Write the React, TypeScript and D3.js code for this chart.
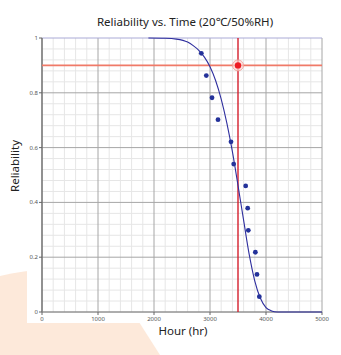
import React from "react";
import * as d3 from "d3";

const title = "Reliability vs. Time (20℃/50%RH)";
const xLabel = "Hour (hr)";
const yLabel = "Reliability";

const xTicks = [0, 1000, 2000, 3000, 4000, 5000];
const yTicks = [0, 0.2, 0.4, 0.6, 0.8, 1];
const yTickLabels = ["0", "0.2", "0.4", "0.6", "0.8", "1"];

// fitted reliability curve
const curveHours = [1900, 2200, 2400, 2600, 2700, 2800, 2900, 3000, 3100, 3200, 3300, 3400, 3500, 3600, 3700, 3800, 3900, 4000, 4100, 4200, 4400, 4700, 5000];
const curveRel = [1.0, 0.999, 0.996, 0.985, 0.972, 0.955, 0.93, 0.895, 0.845, 0.777, 0.69, 0.585, 0.462, 0.335, 0.21, 0.113, 0.05, 0.016, 0.004, 0.0, 0.0, 0.0, 0.0];

// observed failure points
const obsHours = [2845, 2934, 3036, 3143, 3375, 3423, 3637, 3673, 3684, 3810, 3839, 3881];
const obsRel = [0.944, 0.863, 0.782, 0.702, 0.621, 0.54, 0.46, 0.379, 0.298, 0.218, 0.137, 0.056];

// target marker
const targetHour = [3500];
const targetRel = [0.9];

export default function App() {
  const W = 341, H = 355;
  const left = 42, right = 322, top = 38, bottom = 312;
  const x = d3.scaleLinear().domain([0, 5000]).range([left, right]);
  const y = d3.scaleLinear().domain([0, 1]).range([bottom, top]);

  const minorX = d3.range(0, 5001, 200).filter((v) => v % 1000 !== 0);
  const minorY = d3.range(0, 1.0001, 0.04).filter((v) => Math.abs(v / 0.2 - Math.round(v / 0.2)) > 1e-6);

  const line = d3
    .line<number>()
    .x((_, i) => x(curveHours[i]))
    .y((_, i) => y(curveRel[i]))
    .curve(d3.curveMonotoneX);

  const font = "'Noto Sans', 'Open Sans', sans-serif";

  return (
    <svg width={W} height={H} style={{ position: "absolute", left: 0, top: 0 }}>
      <rect x={0} y={0} width={W} height={H} fill="#ffffff" />
      <path d="M0,276 C40,266 100,264 125,300 L160,355 L0,355 Z" fill="#fde9da" />
      <rect x={27} y={0} width={W - 27} height={323} fill="#ffffff" />

      {/* minor grid */}
      {minorX.map((v) => (
        <line key={"mx" + v} x1={x(v)} x2={x(v)} y1={top} y2={bottom} stroke="#e6e6e6" strokeWidth={1} />
      ))}
      {minorY.map((v) => (
        <line key={"my" + v} x1={left} x2={right} y1={y(v)} y2={y(v)} stroke="#e6e6e6" strokeWidth={1} />
      ))}
      {/* major grid */}
      {xTicks.map((v) => (
        <line key={"Mx" + v} x1={x(v)} x2={x(v)} y1={top} y2={bottom} stroke="#a6a6a6" strokeWidth={1} />
      ))}
      {yTicks.map((v) => (
        <line key={"My" + v} x1={left} x2={right} y1={y(v)} y2={y(v)} stroke={v === 1 ? "#aaaad6" : "#a6a6a6"} strokeWidth={1} />
      ))}
      {/* axes */}
      <line x1={left} x2={left} y1={top} y2={bottom} stroke="#666" strokeWidth={1.2} />
      <line x1={left} x2={right} y1={bottom} y2={bottom} stroke="#888" strokeWidth={1} />
      {yTicks.map((v) => (
        <line key={"ty" + v} x1={left - 3} x2={left} y1={y(v)} y2={y(v)} stroke="#666" strokeWidth={1} />
      ))}
      {xTicks.map((v) => (
        <line key={"tx" + v} x1={x(v)} x2={x(v)} y1={bottom} y2={bottom + 3} stroke="#666" strokeWidth={1} />
      ))}
      {yTicks.map((v, i) => (
        <text key={"ly" + v} x={left - 4} y={y(v) + 2} fontSize={6} fill="#555" textAnchor="end" fontFamily={font}>
          {yTickLabels[i]}
        </text>
      ))}
      {xTicks.map((v) => (
        <text key={"lx" + v} x={x(v)} y={bottom + 9} fontSize={6} fill="#555" textAnchor="middle" fontFamily={font}>
          {v}
        </text>
      ))}

      {/* target lines */}
      <line x1={left} x2={right} y1={y(targetRel[0])} y2={y(targetRel[0])} stroke="#f07a68" strokeWidth={1.6} />
      <line x1={x(targetHour[0])} x2={x(targetHour[0])} y1={top} y2={bottom} stroke="#d41e2c" strokeWidth={1.4} />

      {/* fitted curve */}
      <path d={line(curveHours) || ""} fill="none" stroke="#2e2e9e" strokeWidth={1.1} />

      {/* observations */}
      {obsHours.map((h, i) => (
        <circle key={"o" + i} cx={x(h)} cy={y(obsRel[i])} r={2.4} fill="#24329a" />
      ))}

      {/* target marker */}
      <circle cx={x(targetHour[0])} cy={y(targetRel[0])} r={5.5} fill="#fbd3cf" fillOpacity={0.7} stroke="#f0a098" strokeWidth={0.8} />
      <circle cx={x(targetHour[0])} cy={y(targetRel[0])} r={3.2} fill="#ee1c24" />

      {/* titles */}
      <text x={185} y={26} fontSize={11.5} textAnchor="middle" fill="#222" fontFamily={font}>
        {title}
      </text>
      <text x={183} y={335} fontSize={11.5} textAnchor="middle" fill="#222" fontFamily={font}>
        {xLabel}
      </text>
      <text transform={`translate(19,166) rotate(-90)`} fontSize={11.5} textAnchor="middle" fill="#222" fontFamily={font}>
        {yLabel}
      </text>
    </svg>
  );
}
